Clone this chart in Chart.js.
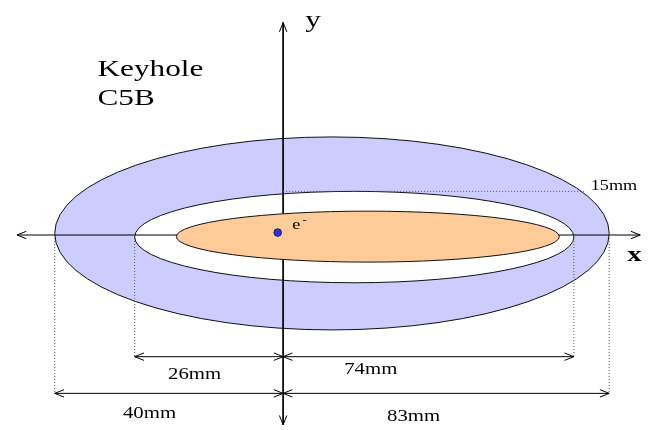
<!DOCTYPE html>
<html>
<head>
<meta charset="utf-8">
<title>Keyhole C5B</title>
<style>
  html, body { margin: 0; padding: 0; background: #ffffff; overflow: hidden; }
  #wrap { width: 648px; height: 430px; }
  canvas { display: block; }
</style>
<script src="https://cdn.jsdelivr.net/npm/chart.js@4/dist/chart.umd.min.js"></script>
</head>
<body>
<div id="wrap"><canvas id="keyhole" width="648" height="430"></canvas></div>
<script>
// ---- Quoted dimensions of the keyhole cross-section (mm) ----
const spanLeft = [26, 40];        // inner / outer half-width left of the y axis
const spanRight = [74, 83];       // inner / outer half-width right of the y axis
const innerHalfHeight = 15;       // inner aperture, above the x axis

// ---- Outline extents [left, right, top, bottom] in mm ----
const outerOutline = [-spanLeft[1], spanRight[1], 33.7, -32.6];
const innerOutline = [-spanLeft[0], spanRight[0], innerHalfHeight, -16.4];
const beamOutline = [-18.7, 70.3, 8.2, -9.3];

// ---- Beam electron position [x, y] in mm ----
const electronPos = [-0.95, 0.84];

// ---- Coordinate axes extents in mm ----
const axisXEnds = [-46.6, 90.9];
const axisYEnds = [73.0, -65.2];

// ---- Heights of the two dimension rows (mm) ----
const dimRows = [-41.8, -54.4];

// Drawing scale (px per mm); the sketch is not drawn to scale, so each side has its own
const PX_LEFT = 5.8, PX_RIGHT = 3.99, PX_Y = 2.98;
const ORIGIN_X = 282.5, ORIGIN_Y = 235.5, W = 648, H = 430;

const BLACK = '#000000';
const DOTTED = '#555555';

function seg(id, axisID, x0, y0, x1, y1, extra) {
  return Object.assign({
    label: id,
    xAxisID: axisID,
    yAxisID: 'y',
    showLine: true,
    data: [{ x: x0, y: y0 }, { x: x1, y: y1 }],
    borderColor: BLACK,
    borderWidth: 1,
    pointRadius: 0,
    fill: false,
    tension: 0,
    order: 0,
    arrows: [false, false]
  }, extra || {});
}

const datasets = [
  // coordinate axes (drawn first so the beam outline covers them)
  seg('axis-x-left', 'xl', axisXEnds[0], 0, 0, 0, { order: 30, axisLine: true, arrows: [true, false] }),
  seg('axis-x-right', 'xr', 0, 0, axisXEnds[1], 0, { order: 29, axisLine: true, arrows: [false, true] }),
  seg('axis-y', 'xl', 0, axisYEnds[0], 0, axisYEnds[1], { order: 28, axisLine: true, arrows: [true, true] }),

  // extension lines
  seg('ext-inner-left', 'xl', -spanLeft[0], 0, -spanLeft[0], dimRows[0], { borderColor: DOTTED, borderDash: [1, 2] }),
  seg('ext-outer-left', 'xl', -spanLeft[1], 0, -spanLeft[1], dimRows[1], { borderColor: DOTTED, borderDash: [1, 2] }),
  seg('ext-inner-right', 'xr', spanRight[0], 0, spanRight[0], dimRows[0], { borderColor: DOTTED, borderDash: [1, 2] }),
  seg('ext-outer-right', 'xr', spanRight[1], 0, spanRight[1], dimRows[1], { borderColor: DOTTED, borderDash: [1, 2] }),
  seg('ext-height', 'xr', 0, innerHalfHeight, 76.8, innerHalfHeight, { borderColor: DOTTED, borderDash: [1, 2] }),

  // dimension lines
  seg('dim-inner-left', 'xl', -spanLeft[0], dimRows[0], 0, dimRows[0], { arrows: [true, true] }),
  seg('dim-inner-right', 'xr', 0, dimRows[0], spanRight[0], dimRows[0], { arrows: [true, true] }),
  seg('dim-outer-left', 'xl', -spanLeft[1], dimRows[1], 0, dimRows[1], { arrows: [true, true] }),
  seg('dim-outer-right', 'xr', 0, dimRows[1], spanRight[1], dimRows[1], { arrows: [true, true] }),

  // the electron
  {
    label: 'electron',
    xAxisID: 'xl',
    yAxisID: 'y',
    showLine: false,
    data: [{ x: electronPos[0], y: electronPos[1] }],
    pointRadius: 3.8,
    pointBackgroundColor: '#3333cc',
    pointBorderColor: '#1a1a66',
    pointBorderWidth: 1,
    order: -1
  }
];

// Text placed on the sketch (scale id, x mm, y mm)
const notes = [
  { text: 'Keyhole', sx: 'xl', x: -32.5, y: 54.6, font: '24px "Liberation Serif"', align: 'left' },
  { text: 'C5B', sx: 'xl', x: -32.5, y: 44.8, font: '24px "Liberation Serif"', align: 'left' },
  { text: 'y', sx: 'xr', x: 5.6, y: 71.6, font: '24px "Liberation Serif"', align: 'left' },
  { text: 'x', sx: 'xr', x: 87.6, y: -8.9, font: 'bold 22px "Liberation Serif"', align: 'left' },
  { text: 'e', sx: 'xr', x: 2.3, y: 2.1, font: '14px "Liberation Serif"', align: 'left' },
  { text: '-', sx: 'xr', x: 4.9, y: 4.0, font: '10px "Liberation Serif"', align: 'left' },
  { text: innerHalfHeight + 'mm', sx: 'xr', x: 78.3, y: 15.6, font: '14px "Liberation Serif"', align: 'left' },
  { text: spanLeft[0] + 'mm', sx: 'xl', x: -15.5, y: -49.5, font: '16px "Liberation Serif"', align: 'center' },
  { text: spanRight[0] + 'mm', sx: 'xr', x: 22.3, y: -47.8, font: '16px "Liberation Serif"', align: 'center' },
  { text: spanLeft[1] + 'mm', sx: 'xl', x: -23.4, y: -62.9, font: '16px "Liberation Serif"', align: 'center' },
  { text: spanRight[1] + 'mm', sx: 'xr', x: 33.2, y: -63.9, font: '16px "Liberation Serif"', align: 'center' }
];
const TEXT_STRETCH = 1.3;

function drawOutline(chart, ext, fill) {
  const { xl, xr, y } = chart.scales;
  const ctx = chart.ctx;
  const L = xl.getPixelForValue(ext[0]);
  const R = xr.getPixelForValue(ext[1]);
  const T = y.getPixelForValue(ext[2]);
  const B = y.getPixelForValue(ext[3]);
  ctx.save();
  ctx.beginPath();
  ctx.ellipse((L + R) / 2, (T + B) / 2, (R - L) / 2, (B - T) / 2, 0, 0, Math.PI * 2);
  ctx.fillStyle = fill;
  ctx.fill();
  ctx.lineWidth = 1;
  ctx.strokeStyle = '#111111';
  ctx.stroke();
  ctx.restore();
}

const axisCount = datasets.filter(d => d.axisLine).length;

const keyholePlugin = {
  id: 'keyhole',
  beforeDatasetsDraw(chart) {
    const ctx = chart.ctx;
    ctx.save();
    ctx.fillStyle = '#ffffff';
    ctx.fillRect(0, 0, chart.width, chart.height);
    ctx.restore();
    drawOutline(chart, outerOutline, '#ccccff');
    drawOutline(chart, innerOutline, '#ffffff');
    chart.$axesDrawn = 0;
  },
  afterDatasetDraw(chart, args) {
    // the beam outline sits on top of the axes once all of them are down
    if (chart.data.datasets[args.index].axisLine) {
      chart.$axesDrawn += 1;
      if (chart.$axesDrawn === axisCount) drawOutline(chart, beamOutline, '#ffcc99');
    }
  },
  afterDatasetsDraw(chart) {
    const ctx = chart.ctx;
    // open arrowheads at flagged segment ends
    chart.data.datasets.forEach((ds, i) => {
      if (!ds.arrows) return;
      const pts = chart.getDatasetMeta(i).data;
      [0, 1].forEach(end => {
        if (!ds.arrows[end]) return;
        const tip = pts[end], from = pts[1 - end];
        const a = Math.atan2(tip.y - from.y, tip.x - from.x);
        const len = 10, spread = 0.38;
        ctx.save();
        ctx.strokeStyle = ds.borderColor;
        ctx.lineWidth = 1;
        ctx.beginPath();
        ctx.moveTo(tip.x - len * Math.cos(a - spread), tip.y - len * Math.sin(a - spread));
        ctx.lineTo(tip.x, tip.y);
        ctx.lineTo(tip.x - len * Math.cos(a + spread), tip.y - len * Math.sin(a + spread));
        ctx.stroke();
        ctx.restore();
      });
    });
    // labels
    notes.forEach(n => {
      const px = chart.scales[n.sx].getPixelForValue(n.x);
      const py = chart.scales.y.getPixelForValue(n.y);
      ctx.save();
      ctx.font = n.font;
      ctx.fillStyle = '#000000';
      ctx.textAlign = n.align;
      ctx.textBaseline = 'alphabetic';
      ctx.translate(px, py);
      ctx.scale(TEXT_STRETCH, 1);
      ctx.fillText(n.text, 0, 0);
      ctx.restore();
    });
  }
};

new Chart(document.getElementById('keyhole'), {
  type: 'scatter',
  data: { datasets },
  options: {
    responsive: false,
    animation: false,
    events: [],
    devicePixelRatio: 1,
    layout: { padding: 0 },
    plugins: { legend: { display: false }, tooltip: { enabled: false }, title: { display: false } },
    scales: {
      xl: { type: 'linear', axis: 'x', display: false, min: -ORIGIN_X / PX_LEFT, max: (W - ORIGIN_X) / PX_LEFT },
      xr: { type: 'linear', axis: 'x', display: false, min: -ORIGIN_X / PX_RIGHT, max: (W - ORIGIN_X) / PX_RIGHT },
      y: { type: 'linear', axis: 'y', display: false, min: -(H - ORIGIN_Y) / PX_Y, max: ORIGIN_Y / PX_Y }
    }
  },
  plugins: [keyholePlugin]
});
</script>
</body>
</html>
